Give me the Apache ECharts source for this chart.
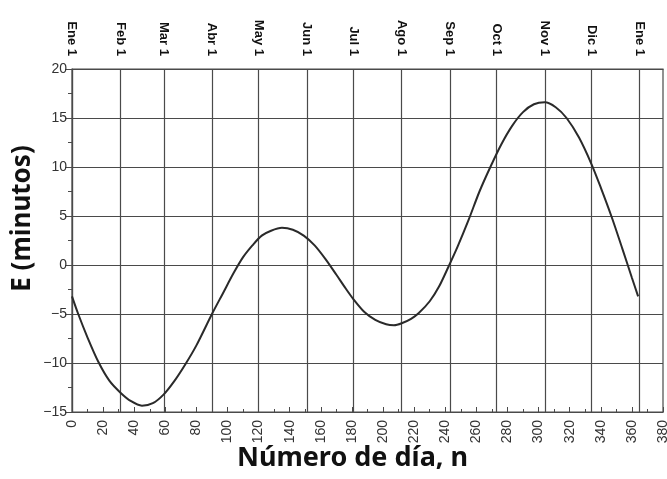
<!DOCTYPE html>
<html>
<head>
<meta charset="utf-8">
<script src="https://cdn.jsdelivr.net/npm/echarts@6/dist/echarts.min.js"></script>
<style>html,body{margin:0;padding:0;background:#fff}#c{width:667px;height:479px}</style>
</head>
<body>
<div id="c"></div>
<script>
// Day numbers and equation-of-time values (minutes)
var dayN = [0, 4, 10, 17, 24, 31, 38, 45, 52, 59, 66, 73, 80, 90, 97, 104, 110, 116, 122, 128, 135, 142, 149, 156, 163, 170, 176, 181, 188, 195, 202, 207, 212, 218, 223, 230, 236, 242, 248, 255, 262, 269, 276, 283, 290, 297, 304, 311, 318, 326, 334, 340, 347, 354, 360, 364];
var eMin = [-3.2, -5.0, -7.4, -9.9, -11.8, -13.0, -13.9, -14.35, -14.1, -13.2, -11.8, -10.1, -8.2, -5.0, -2.9, -0.8, 0.8, 2.0, 3.0, 3.5, 3.8, 3.6, 3.0, 2.0, 0.6, -1.0, -2.4, -3.5, -4.8, -5.6, -6.05, -6.15, -5.95, -5.5, -4.9, -3.7, -2.2, -0.2, 1.9, 4.6, 7.5, 10.0, 12.3, 14.2, 15.6, 16.4, 16.6, 16.1, 15.0, 13.0, 10.3, 7.9, 4.9, 1.6, -1.3, -3.2];
// Month start days and top labels
var monthDays = [0, 31, 59, 90, 120, 151, 181, 212, 243, 273, 304, 334, 365];
var monthLabels = ['Ene 1', 'Feb 1', 'Mar 1', 'Abr 1', 'May 1', 'Jun 1', 'Jul 1', 'Ago 1', 'Sep 1', 'Oct 1', 'Nov 1', 'Dic 1', 'Ene 1'];
// Axis ranges
var xMin = 0, xMax = 380, xStep = 20;
var yMin = -15, yMax = 20, yStep = 5;

var data = dayN.map(function (n, i) { return [n, eMin[i]]; });
var lineCol = '#4a4a4a';

var chart = echarts.init(document.getElementById('c'), null, {renderer: 'canvas'});
chart.setOption({
  animation: false,
  grid: {left: 72, right: 4, top: 69, bottom: 67, show: true, borderColor: lineCol, borderWidth: 1.2, backgroundColor: 'transparent', outerBoundsMode: 'none', containLabel: false},
  xAxis: [{
    type: 'value', position: 'bottom', min: xMin, max: xMax, interval: xStep,
    axisLine: {show: true, onZero: false, lineStyle: {color: lineCol, width: 1.2}},
    axisTick: {show: true, inside: true, length: 5, lineStyle: {color: lineCol}},
    minorTick: {show: true, splitNumber: 2, length: 3, lineStyle: {color: lineCol}},
    splitLine: {show: false},
    axisLabel: {rotate: 90, fontFamily: 'Liberation Sans', fontSize: 14, color: '#333', margin: 8},
    name: 'Número de día, n', nameLocation: 'middle', nameGap: 33, nameMoveOverlap: false,
    nameTextStyle: {fontFamily: 'Noto Sans', fontWeight: 'bold', fontSize: 27, color: '#111', padding: [0, 30, 0, 0]}
  }, {
    type: 'value', position: 'top', min: xMin, max: xMax,
    axisLine: {show: true, onZero: false, lineStyle: {color: lineCol, width: 1.2}},
    axisTick: {show: false, customValues: monthDays},
    splitLine: {show: true, lineStyle: {color: lineCol, width: 1.2}},
    axisLabel: {
      customValues: monthDays, rotate: 90, margin: 13,
      fontFamily: 'Liberation Sans', fontWeight: 'bold', fontSize: 13, color: '#111',
      formatter: function (v) { var i = monthDays.indexOf(Math.round(v)); return i >= 0 ? monthLabels[i] : ''; }
    }
  }],
  yAxis: {
    type: 'value', min: yMin, max: yMax, interval: yStep,
    axisLine: {show: true, onZero: false, lineStyle: {color: lineCol, width: 1.2}},
    axisTick: {show: true, length: 7, lineStyle: {color: lineCol}},
    minorTick: {show: true, splitNumber: 2, length: 4, lineStyle: {color: lineCol}},
    splitLine: {show: true, lineStyle: {color: lineCol, width: 1.2}},
    axisLabel: {fontFamily: 'Liberation Sans', fontSize: 14, color: '#333', margin: 5,
      formatter: function (v) { return String(v).replace('-', '\u2212'); }},
    name: 'E (minutos)', nameLocation: 'middle', nameGap: 36, nameMoveOverlap: false,
    nameTextStyle: {fontFamily: 'Noto Sans', fontWeight: 'bold', fontSize: 26, color: '#111', padding: [0, 0, 0, 44]}
  },
  series: [{
    type: 'line', xAxisIndex: 0, data: data, smooth: 0.3, symbol: 'none',
    lineStyle: {color: '#2a2a2a', width: 2}
  }]
});
</script>
</body>
</html>
